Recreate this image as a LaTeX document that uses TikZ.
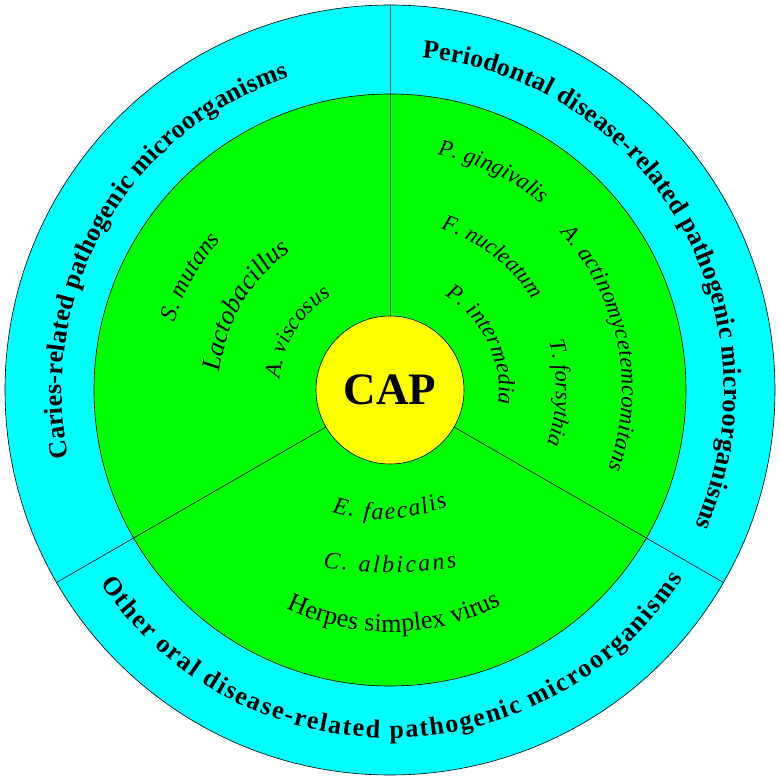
\documentclass[tikz,border=0pt]{standalone}
\usepackage{fontspec}
\setmainfont{Liberation Serif}
\usetikzlibrary{decorations.text}
\definecolor{ringcyan}{RGB}{0,255,255}
\definecolor{coregreen}{RGB}{0,255,0}
\definecolor{capyellow}{RGB}{255,255,0}
\tikzset{
  disc/.style={circle, draw=black, line width=0.6pt, inner sep=0pt, outer sep=0pt},
  divider/.style={draw=black, line width=0.6pt},
  softdivider/.style={draw=black, draw opacity=0.55, line width=0.8pt},
  ringlabel/.style={decorate, decoration={text along path, text align={fit to path},
      text={|\bfseries\fontsize{26pt}{30pt}\selectfont|#1}}},
  species/.style n args={2}{decorate, decoration={text along path, text align={fit to path},
      text={|#1|#2}}}
}
\newcommand{\itsz}[1]{\itshape\fontsize{#1}{#1}\selectfont}
\newcommand{\rmsz}[1]{\upshape\fontsize{#1}{#1}\selectfont}
\begin{document}
\begin{tikzpicture}[x=1pt,y=1pt]
\useasboundingbox (-390pt,-390pt) rectangle (390pt,390pt);
% rings
\node[disc, fill=ringcyan, minimum size=770pt] (ring) at (0,0) {};
\node[disc, fill=coregreen, minimum size=592pt] (core) at (0,0) {};
\node[disc, fill=capyellow, minimum size=148pt,
      font=\bfseries\fontsize{45pt}{45pt}\selectfont] (cap) at (0,0) {CAP};
% dividers
\draw[softdivider] (cap.90) -- (ring.90);
\draw[divider] (cap.-30) -- (ring.-30);
\draw[divider] (cap.210) -- (ring.210);
% ring labels
\path[ringlabel={Caries-related pathogenic microorganisms}]
  (191.9:328pt) arc[start angle=191.9, end angle=107.9, radius=328pt];
\path[ringlabel={Periodontal disease-related pathogenic microorganisms}]
  (84.5:334pt) arc[start angle=84.5, end angle=-24, radius=334pt];
\path[ringlabel={Other oral disease-related pathogenic microorganisms}]
  (213.7:348pt) arc[start angle=213.7, end angle=327.2, radius=348pt];
% caries species
\path[species={\itsz{24pt}}{S. mutans}]
  (162.6:226pt) arc[start angle=162.6, end angle=138.4, radius=226pt];
\path[species={\itsz{26.5pt}}{Lactobacillus}]
  (173.9:171pt) arc[start angle=173.9, end angle=125.6, radius=171pt];
\path[species={\itsz{22.5pt}}{A. viscosus}]
  (174.2:111pt) arc[start angle=174.2, end angle=122, radius=111pt];
% periodontal species
\path[species={\itsz{23pt}}{P. gingivalis}]
  (78.6:240pt) arc[start angle=78.6, end angle=50.7, radius=240pt];
\path[species={\itsz{22.5pt}}{F. nucleatum}]
  (72.5:169pt) arc[start angle=72.5, end angle=32.2, radius=169pt];
\path[species={\itsz{23pt}}{P. intermedia}]
  (59.9:109pt) arc[start angle=59.9, end angle=-7.5, radius=109pt];
\path[species={\itsz{22.5pt}}{T. forsythia}]
  (16.8:166pt) arc[start angle=16.8, end angle=-19.1, radius=166pt];
\path[species={\itsz{23pt}}{A. actinomycetemcomitans}]
  (42.7:232pt) arc[start angle=42.7, end angle=-19.9, radius=232pt];
% other species
\path[species={\itsz{24pt}}{E. faecalis}]
  (-58pt,-122pt) .. controls (-19.3pt,-133.3pt) and (19.3pt,-131.3pt) .. (58pt,-116pt);
\path[species={\itsz{24pt}}{C. albicans}]
  (-67pt,-177pt) .. controls (-22.3pt,-185pt) and (22.3pt,-185pt) .. (67pt,-177pt);
\path[species={\rmsz{26pt}}{Herpes simplex virus}]
  (244.6:242pt) arc[start angle=244.6, end angle=297.5, radius=242pt];
\end{tikzpicture}
\end{document}
